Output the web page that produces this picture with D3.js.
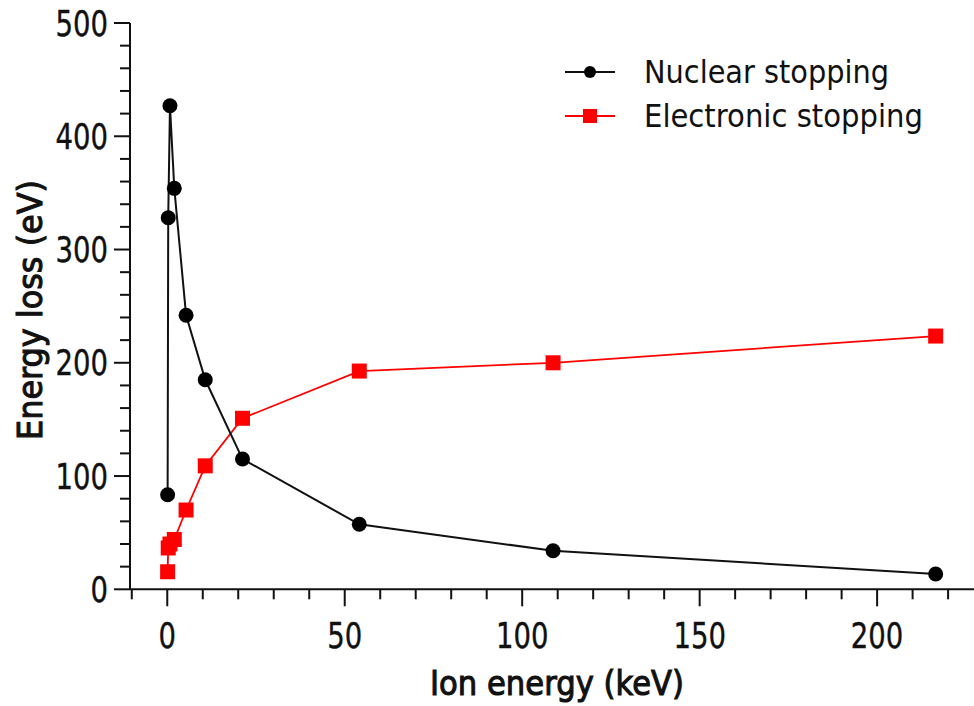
<!DOCTYPE html>
<html>
<head>
<meta charset="utf-8">
<script src="https://cdn.jsdelivr.net/npm/d3@7"></script>
<style>
  body { margin: 0; background: #fff; }
  svg { display: block; }
  text { fill: #111; }
</style>
</head>
<body>
<svg id="chart" width="974" height="706"></svg>
<script>
// ion energy (keV) for each simulated point
var ionEnergy = [0.1, 0.27, 0.76, 1.98, 5.3, 10.7, 21.2, 54.1, 108.7, 216.5];
// energy loss (eV)
var nuclearLoss = [83.5, 328, 427, 354, 242, 185, 115, 57.4, 34, 13.5];
var electronicLoss = [15.5, 36.5, 40, 44, 70, 109, 151, 192.7, 200, 223.6];

var seriesNames = ["Nuclear stopping", "Electronic stopping"];
var xTickValues = [0, 50, 100, 150, 200];
var yTickValues = [0, 100, 200, 300, 400, 500];

var svg = d3.select("#chart");

var x = d3.scaleLinear().domain([-10.5, 227.3]).range([130, 974]);
var y = d3.scaleLinear().domain([0, 500]).range([589.3, 23]);

// fit a label to a given width (fonts here are wider than the original's)
function fit(sel, perChar) {
    sel.attr("textLength", function() { return this.textContent.length * perChar; })
       .attr("lengthAdjust", "spacingAndGlyphs");
}

// ---- x axis
var xMinor = d3.range(-10, 227, 10).filter(function(v) { return v % 50 != 0; });
var gx = svg.append("g").attr("transform", "translate(0," + y(0) + ")");
gx.append("line")
    .attr("x1", 130).attr("x2", 974)
    .attr("stroke", "#111").attr("stroke-width", 2);
gx.selectAll("line.minor").data(xMinor).enter().append("line")
    .attr("class", "minor")
    .attr("x1", x).attr("x2", x)
    .attr("y1", 0).attr("y2", 10)
    .attr("stroke", "#111").attr("stroke-width", 2);
gx.selectAll("line.major").data(xTickValues).enter().append("line")
    .attr("class", "major")
    .attr("x1", x).attr("x2", x)
    .attr("y1", 0).attr("y2", 17)
    .attr("stroke", "#111").attr("stroke-width", 2);
gx.selectAll("text").data(xTickValues).enter().append("text")
    .attr("x", x).attr("y", 59)
    .attr("text-anchor", "middle")
    .style("font-family", "DejaVu Sans")
    .style("font-size", "35px")
    .style("stroke", "#111").style("stroke-width", 0.4)
    .text(function(d) { return d; })
    .call(fit, 17.5);

// ---- y axis
var yMinor = d3.range(20, 500, 20).filter(function(v) { return v % 100 != 0; });
var gy = svg.append("g").attr("transform", "translate(130,0)");
gy.append("line")
    .attr("y1", y(500)).attr("y2", y(0))
    .attr("stroke", "#111").attr("stroke-width", 2);
gy.selectAll("line.minor").data(yMinor).enter().append("line")
    .attr("class", "minor")
    .attr("y1", y).attr("y2", y)
    .attr("x1", 0).attr("x2", -10)
    .attr("stroke", "#111").attr("stroke-width", 2);
gy.selectAll("line.major").data(yTickValues).enter().append("line")
    .attr("class", "major")
    .attr("y1", y).attr("y2", y)
    .attr("x1", 0).attr("x2", -16)
    .attr("stroke", "#111").attr("stroke-width", 2);
gy.selectAll("text").data(yTickValues).enter().append("text")
    .attr("x", -22).attr("y", function(d) { return y(d) + 12.5; })
    .attr("text-anchor", "end")
    .style("font-family", "DejaVu Sans")
    .style("font-size", "35px")
    .style("stroke", "#111").style("stroke-width", 0.4)
    .text(function(d) { return d; })
    .call(fit, 17.5);

// ---- axis titles (semi-bold look: regular weight plus a thin stroke)
svg.append("text")
    .attr("x", 557).attr("y", 695)
    .attr("text-anchor", "middle")
    .style("font-family", "DejaVu Sans")
    .style("font-size", "34px")
    .style("stroke", "#111").style("stroke-width", 1.1)
    .text("Ion energy (keV)")
    .attr("textLength", 254).attr("lengthAdjust", "spacingAndGlyphs");

svg.append("text")
    .attr("transform", "translate(42,310)rotate(-90)")
    .attr("text-anchor", "middle")
    .style("font-family", "DejaVu Sans")
    .style("font-size", "34px")
    .style("stroke", "#111").style("stroke-width", 1.1)
    .text("Energy loss (eV)")
    .attr("textLength", 260).attr("lengthAdjust", "spacingAndGlyphs");

// ---- series
var line = d3.line()
    .x(function(d) { return x(d[0]); })
    .y(function(d) { return y(d[1]); });

var nuclear = d3.zip(ionEnergy, nuclearLoss);
var electronic = d3.zip(ionEnergy, electronicLoss);

svg.append("path").datum(electronic)
    .attr("d", line).attr("fill", "none")
    .attr("stroke", "#ff0000").attr("stroke-width", 1.8);
svg.selectAll("rect.el").data(electronic).enter().append("rect")
    .attr("class", "el")
    .attr("x", function(d) { return x(d[0]) - 7.5; })
    .attr("y", function(d) { return y(d[1]) - 7.5; })
    .attr("width", 15).attr("height", 15)
    .attr("fill", "#ff0000");

svg.append("path").datum(nuclear)
    .attr("d", line).attr("fill", "none")
    .attr("stroke", "#111").attr("stroke-width", 2);
svg.selectAll("circle.nu").data(nuclear).enter().append("circle")
    .attr("class", "nu")
    .attr("cx", function(d) { return x(d[0]); })
    .attr("cy", function(d) { return y(d[1]); })
    .attr("r", 7.5)
    .attr("fill", "#000");

// ---- legend
var legend = svg.append("g");
var legendColors = ["#111", "#ff0000"];
var row = legend.selectAll("g").data(seriesNames).enter().append("g")
    .attr("transform", function(d, i) { return "translate(0," + (72 + i * 44) + ")"; });
row.append("line")
    .attr("x1", 565).attr("x2", 615)
    .attr("stroke", function(d, i) { return legendColors[i]; })
    .attr("stroke-width", 2);
row.filter(function(d, i) { return i == 0; }).append("circle")
    .attr("cx", 590).attr("r", 6).attr("fill", "#000");
row.filter(function(d, i) { return i == 1; }).append("rect")
    .attr("x", 583).attr("y", -7).attr("width", 14).attr("height", 14)
    .attr("fill", "#ff0000");
row.append("text")
    .attr("x", 644).attr("y", 11)
    .style("font-family", "DejaVu Sans")
    .style("font-size", "32px")
    .text(function(d) { return d; })
    .attr("textLength", function(d, i) { return i == 0 ? 245 : 279; })
    .attr("lengthAdjust", "spacingAndGlyphs");
</script>
</body>
</html>
